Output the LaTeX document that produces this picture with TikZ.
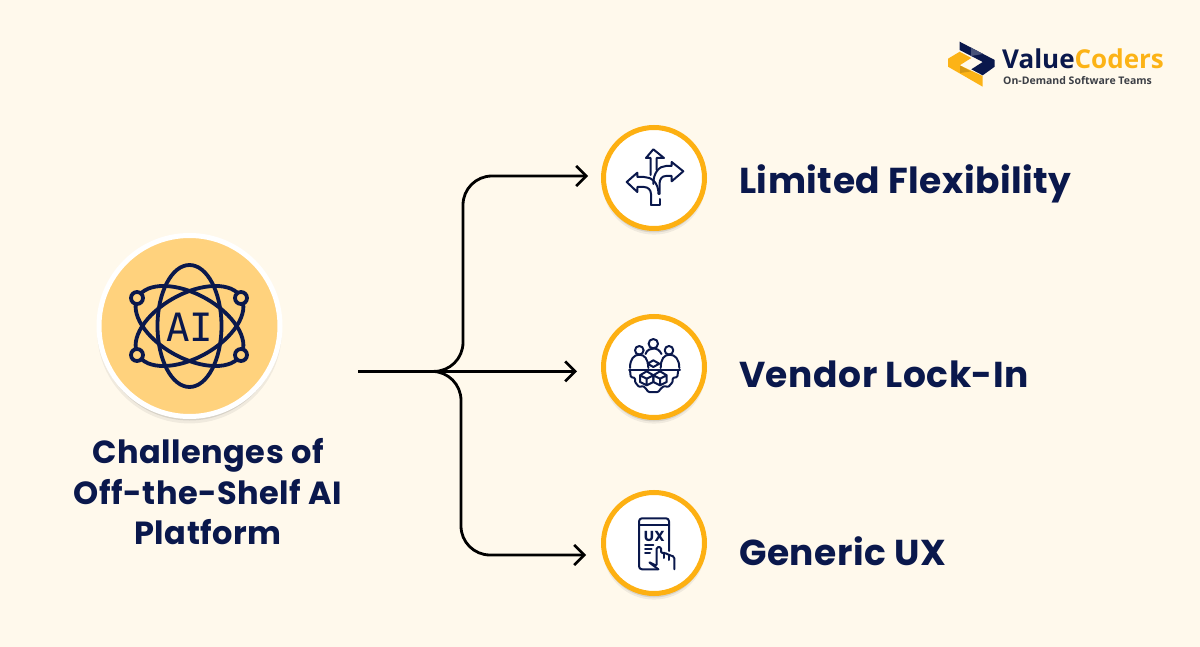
\documentclass[tikz,border=0pt]{standalone}
\usepackage{fontspec}
\usepackage{pgf,tikz}
\usetikzlibrary{shapes,arrows.meta,positioning,shadows}
\newfontfamily\labelfont[LetterSpace=1.5]{Poppins}
\newfontfamily\logofont{Open Sans}
\newfontfamily\glyphfont{DejaVu Sans Mono}
\definecolor{paper}{HTML}{FFF9EC}
\definecolor{ink}{HTML}{0A184C}
\definecolor{ringgold}{HTML}{FDB012}
\definecolor{discgold}{HTML}{FFD27D}
\definecolor{logogold}{HTML}{FCB316}
\definecolor{logogray}{HTML}{3C3F46}
\tikzstyle{softshade} = [drop shadow={shadow xshift=0pt, shadow yshift=-5pt, shadow scale=1.02, fill=black, opacity=.06},
  drop shadow={shadow xshift=0pt, shadow yshift=-4pt, shadow scale=1.0, fill=black, opacity=.10},
  drop shadow={shadow xshift=0pt, shadow yshift=-3pt, shadow scale=.98, fill=black, opacity=.14}]
\tikzstyle{iconring} = [circle, draw=ringgold, fill=white, line width=5pt, minimum size=101pt, inner sep=0pt, softshade]
\tikzstyle{aidisc} = [circle, draw=white, fill=discgold, line width=5pt, minimum size=181pt, inner sep=0pt, softshade]
\tikzstyle{optionlabel} = [text=ink, font=\labelfont\bfseries\fontsize{36}{40}\selectfont, inner sep=0pt, anchor=west]
\tikzstyle{titlelabel} = [text=ink, align=center, font=\labelfont\bfseries\fontsize{32}{40.5}\selectfont, inner sep=0pt]
\tikzstyle{feed} = [black, line width=2.8pt, rounded corners=29pt, -{Straight Barb[length=10pt,width=20pt,line width=2.6pt]}]
\tikzstyle{iconline} = [ink, line width=2pt, line join=round, line cap=round]
\tikzstyle{aiorbit} = [ink, line width=3.8pt]
\begin{document}
\begin{tikzpicture}[x=1pt,y=-1pt]
\useasboundingbox (0,0) rectangle (1200,647);
\fill[paper] (0,0) rectangle (1200,647);

% logo
\fill[logogold] (948,58.7) -- (959.7,51.7) -- (971.3,58) -- (959.7,65.3) -- (982.7,76) -- (982.7,86.7) -- (948,66.7) -- cycle;
\fill[ink] (959.7,41.7) -- (994.7,60) -- (994.7,66.7) -- (982.7,75.3) -- (971.3,69.3) -- (982.7,62) -- (959.7,50) -- cycle;
\fill[ink!75!white] (971,47.7) -- (983,54) -- (971,56) -- cycle;
\fill[logogold!85!black] (960,65.5) -- (971,71.5) -- (960,73) -- cycle;
\node[inner sep=0pt, anchor=base west, font=\logofont\bfseries\fontsize{26}{30}\selectfont] (logoname) at (1002,69) {\textcolor{ink}{Value}\textcolor{logogold}{Coders}};
\node[inner sep=0pt, anchor=base west, text=logogray, font=\logofont\bfseries\fontsize{10.5}{12}\selectfont] (logotag) at (1003,85) {On-Demand Software Teams};

% left side
\node[aidisc] (aidisc) at (189.5,326) {};
\draw[aiorbit] (aidisc.center) ellipse [x radius=32, y radius=61];
\draw[aiorbit, rotate around={29:(aidisc.center)}] (aidisc.center) ellipse [x radius=59, y radius=32];
\draw[aiorbit, rotate around={-29:(aidisc.center)}] (aidisc.center) ellipse [x radius=59, y radius=32];
\foreach \px/\py in {137/298,241/298,137/355,241/355}
  \draw[aiorbit, fill=discgold] (\px,\py) circle (6);
\node[text=ink, font=\glyphfont\fontsize{39}{40}\selectfont, inner sep=0pt] (aitext) at (189.5,327) {AI};
\node[titlelabel] (title) at (208,492) {Challenges of\\Off-the-Shelf AI\\Platform};

% the three options
\node[iconring] (flexring) at (654,178) {};
\node[iconring] (vendorring) at (654,367) {};
\node[iconring] (uxring) at (654,543) {};
\node[optionlabel, right=32pt of flexring, yshift=-6pt] (flexlabel) {Limited Flexibility};
\node[optionlabel, right=32pt of vendorring, yshift=-7pt] (vendorlabel) {Vendor Lock-In};
\node[optionlabel, right=32pt of uxring, yshift=-8pt] (uxlabel) {Generic UX};

% connectors
\coordinate (feedstart) at (358,371.4);
\coordinate (hub) at (435,371.4);
\coordinate (upbend) at (463,176);
\coordinate (downbend) at (461,555);
\coordinate (uptip) at (588,176);
\coordinate (midtip) at (577,371.4);
\coordinate (downtip) at (586,555);
\draw[black, line width=3pt] (feedstart) -- (hub);
\draw[feed] (hub) -- (midtip);
\draw[feed] (hub) -| (upbend) -- (uptip);
\draw[feed] (hub) -| (downbend) -- (downtip);

% arrows icon
\begin{scope}[shift={(620,142)}]
\draw[iconline] (30.7,33) -- (30.7,16) -- (26,16) -- (33.3,7.3) -- (44,16) -- (36.7,16) -- (36.7,28);
\draw[iconline] (39.5,52) -- (39.5,42) .. controls (39.5,37) and (42,34) .. (46,34) -- (51.7,34) -- (51.7,39.3) -- (63.3,29.3) -- (51.7,20) -- (51.7,24) -- (46,24) .. controls (39,24) and (33.3,31) .. (33.3,42);
\draw[iconline] (31,63) -- (31,52) .. controls (31,48) and (28,45) .. (24,45) -- (17.3,45) -- (17.3,50) -- (6.7,40) -- (17.3,30.7) -- (17.3,35) -- (24,35) .. controls (31,35) and (38.5,40) .. (38.5,52);
\draw[iconline] (31,63) -- (39.5,63) -- (39.5,57);
\end{scope}

% team icon
\begin{scope}[shift={(620,332)}]
\draw[iconline] (33.3,11.7) circle (4.7);
\draw[iconline] (19.3,18.3) circle (4.3);
\draw[iconline] (49,18.3) circle (4.3);
\draw[iconline] (10,36) .. controls (10,27) and (14,22.7) .. (19.3,22.7) .. controls (24.5,22.7) and (28.3,27) .. (28.3,36);
\draw[iconline] (40.7,36) .. controls (40.7,27) and (44,22.7) .. (49.7,22.7) .. controls (55,22.7) and (59.3,27) .. (59.3,36);
\draw[iconline] (25.5,22) .. controls (27,18) and (30,16.5) .. (33.3,16.5) .. controls (37,16.5) and (39.5,18) .. (41.5,22);
\draw[iconline] (9,37.5) -- (60,37.5);
\draw[iconline, rounded corners=1pt] (10,38) -- (10.7,45) -- (15,46) -- (15,50) -- (19,55) -- (23.3,54) -- (26,56.7) -- (28.3,60) -- (38.3,60) -- (40.7,56.7) -- (44,54) -- (48.3,55) -- (52.7,50) -- (52.7,46) -- (57.3,45) -- (58.3,38);
\draw[iconline] (27.7,31.7) -- (33.3,28.3) -- (39.3,31.7) -- (33.3,35) -- cycle;
\foreach \cx in {26.7,40}
  \draw[iconline, shift={(\cx,46.7)}] (-6.7,-3.4) -- (0,-7.4) -- (6.7,-3.4) -- (6.7,3.3) -- (0,6.6) -- (-6.7,3.3) -- cycle (-6.7,-3.4) -- (0,0) -- (6.7,-3.4) (0,0) -- (0,6.6);
\end{scope}

% phone icon
\begin{scope}[shift={(625,510)}]
\draw[iconline, rounded corners=3pt] (44,41) -- (44,8.3) -- (14,8.3) -- (14,59.3) -- (33.3,59.3);
\draw[iconline] (14,15) -- (44,15);
\node[text=ink, font=\labelfont\bfseries\fontsize{14.5}{15}\selectfont, inner sep=0pt] (uxtext) at (29.3,26.2) {UX};
\draw[iconline] (20,35) -- (28.3,35);
\draw[iconline] (20,39.3) -- (26.7,39.3);
\draw[iconline] (20,43.3) -- (25,43.3);
\draw[iconline, rounded corners=1.5pt] (49.3,59.3) -- (49.3,46.7) -- (44.3,45) -- (39.3,42.7) -- (36,43.3) -- (36,37) -- (31.7,37) -- (31.7,56) -- (23.3,51.7) -- (33.3,59.3);
\draw[iconline] (39.3,42.7) -- (39.3,48);
\draw[iconline] (44.3,45) -- (44.3,50);
\end{scope}
\end{tikzpicture}
\end{document}
